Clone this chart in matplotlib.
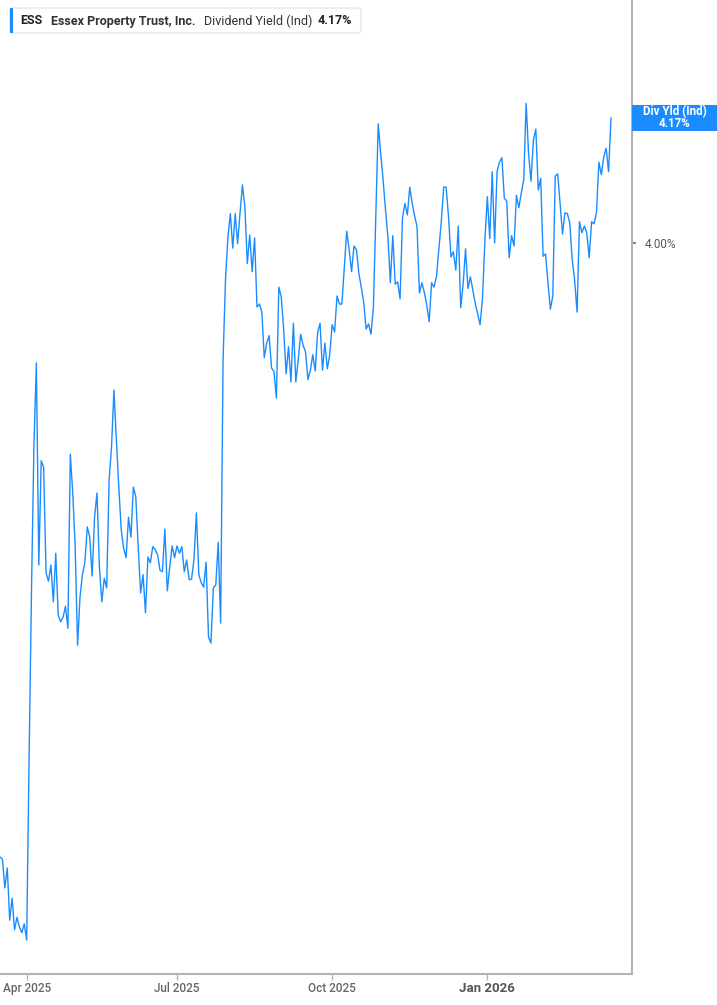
import numpy as np
import pandas as pd
import matplotlib
matplotlib.use("Agg")
import matplotlib.pyplot as plt
from matplotlib.patches import FancyBboxPatch, Rectangle

# ---------------- data ----------------
ticker = "ESS"
company = "Essex Property Trust, Inc."
metric = "Dividend Yield (Ind)"
last_label = "4.17%"
badge_title = "Div Yld (Ind)"
start_date = "2025-03-17"
holidays = ["2025-04-18", "2025-05-26", "2025-06-19", "2025-07-04", "2025-09-01",
            "2025-11-27", "2025-12-25", "2026-01-01", "2026-01-19", "2026-02-16"]
tick_months = ["2025-04", "2025-07", "2025-10", "2026-01"]
tick_labels = ["Apr 2025", "Jul 2025", "Oct 2025", "Jan 2026"]
ytick_vals = [4.00]
ytick_labels = ["4.00%"]

yield_a = [3.165, 3.162, 3.123, 3.150, 3.079, 3.109, 3.066, 3.083, 3.070, 3.062,
           3.074, 3.052, 3.300, 3.530, 3.725, 3.837]
yield_b = [3.562, 3.704, 3.695, 3.551, 3.540, 3.562, 3.512, 3.578, 3.494, 3.485,
           3.491, 3.506, 3.476, 3.713, 3.660, 3.587, 3.453, 3.519, 3.549, 3.566,
           3.614, 3.600, 3.547, 3.627, 3.660, 3.559, 3.512, 3.544, 3.531, 3.678,
           3.723, 3.800, 3.732, 3.668, 3.610, 3.585, 3.572, 3.627, 3.600, 3.668,
           3.655, 3.587, 3.524, 3.549, 3.497, 3.573, 3.565, 3.587, 3.583, 3.576,
           3.555, 3.553, 3.611, 3.527, 3.559, 3.588, 3.572, 3.588, 3.578, 3.587,
           3.553, 3.569, 3.542, 3.543, 3.569, 3.633, 3.549, 3.538, 3.532, 3.566,
           3.464, 3.456, 3.531, 3.535, 3.593, 3.483]
yield_c = [3.841, 3.950, 4.008, 4.040, 3.993, 4.040, 3.999, 4.041, 4.079, 4.049,
           3.972, 4.011, 3.961, 4.007, 3.913, 3.917, 3.906, 3.844, 3.864, 3.874,
           3.830, 3.825, 3.789, 3.940, 3.927, 3.882, 3.822, 3.859, 3.811, 3.891,
           3.811, 3.841, 3.876, 3.861, 3.852, 3.814, 3.827, 3.848, 3.826, 3.878,
           3.891, 3.827, 3.864, 3.829, 3.848, 3.889, 3.879, 3.928, 3.917, 3.917,
           3.967, 4.016, 3.991, 3.961, 3.996, 3.991, 3.959, 3.940, 3.920, 3.883,
           3.890, 3.876, 3.912, 4.037, 4.162, 4.122, 4.086, 4.045, 4.008, 3.946,
           4.010, 3.944, 3.947, 3.924, 4.034, 4.054, 4.038, 4.076, 4.054, 4.037,
           4.022, 3.932, 3.946, 3.933, 3.916, 3.893, 3.946, 3.940, 3.954, 3.991,
           4.029, 4.076, 4.076, 4.035, 3.981, 3.988, 3.963, 4.023, 3.912, 3.943,
           3.992, 3.938, 3.954, 3.936, 3.918, 3.904, 3.889, 3.925, 4.004, 4.063,
           4.006, 4.097, 4.000, 4.097, 4.110, 4.116, 4.061, 4.057, 3.980, 4.010,
           3.996, 4.065, 4.048, 4.068, 4.086, 4.190, 4.122, 4.084, 4.140, 4.155,
           4.072, 4.088, 3.982, 3.985, 3.946, 3.910, 3.928, 4.091, 4.094, 4.054,
           4.012, 4.041, 4.040, 4.027, 3.977, 3.950, 3.906, 4.029, 4.014, 4.023,
           4.014, 3.980, 4.029, 4.026, 4.041, 4.110, 4.093, 4.117, 4.129, 4.097,
           4.170]

values = np.array(yield_a + yield_b + yield_c)
dates = pd.bdate_range(start=start_date, periods=len(values), freq="C",
                       holidays=holidays)
idx = np.arange(len(values))

# ---------------- style ----------------
W, H = 717, 1005
LINE = "#1a8cff"
GRAY = "#b3b3b3"
TXT = "#555555"
FONT = ["Roboto", "DejaVu Sans"]
plt.rcParams["font.family"] = FONT

fig = plt.figure(figsize=(W / 100, H / 100), dpi=100)
ax_right = 632
ax_bottom = 974
ax = fig.add_axes([0, 1 - ax_bottom / H, ax_right / W, ax_bottom / H])

ax.plot(idx, values, color=LINE, lw=1.0, solid_joinstyle="round")

# scales: x index per trading day, y linear yield
px_per_idx = 611 / (len(values) - 1)
ax.set_xlim(0, ax_right / px_per_idx)
ppu = 735.3  # pixels per 1% yield
ytop = 4.0 + 243 / ppu
ax.set_ylim(ytop - ax_bottom / ppu, ytop)

for s in ["top", "left"]:
    ax.spines[s].set_visible(False)
for s in ["right", "bottom"]:
    ax.spines[s].set_color(GRAY)
    ax.spines[s].set_linewidth(1.5)

month_keys = dates.strftime("%Y-%m")
tick_pos = [int(np.argmax(month_keys == m)) for m in tick_months]
ax.set_xticks(tick_pos)
ax.set_xticklabels(tick_labels)
ax.tick_params(axis="x", length=4, width=1, color=GRAY, colors=TXT,
               labelsize=8.5, pad=1.5)
for lab in ax.get_xticklabels():
    lab.set_color("#666666")
    lab.set_fontweight("medium")
    if lab.get_text().startswith("Jan"):
        lab.set_fontweight("bold")
        lab.set_fontsize(9.5)
        lab.set_color("#555555")

ax.yaxis.tick_right()
ax.set_yticks(ytick_vals)
ax.set_yticklabels(ytick_labels)
ax.tick_params(axis="y", length=3, width=1.5, color="#888888", labelcolor=TXT,
               labelsize=8.5, pad=6)


def fx(px):
    return px / W


def fy(py):
    return 1 - py / H


# legend box top-left
box = FancyBboxPatch((fx(10), fy(33)), fx(351), 25 / H,
                     boxstyle="round,pad=0,rounding_size=0.004",
                     transform=fig.transFigure, facecolor="white",
                     edgecolor="#e6e6e6", lw=1.0, zorder=5)
fig.add_artist(box)
fig.add_artist(Rectangle((fx(10), fy(33)), fx(3), 25 / H,
                         transform=fig.transFigure, facecolor=LINE,
                         edgecolor="none", zorder=6))
ty = fy(21)
fig.text(fx(20), ty, ticker, fontsize=9, fontweight="bold", color="#222222",
         va="center", zorder=7)
fig.text(fx(51), ty, company, fontsize=9, fontweight="bold", color="#333333",
         va="center", zorder=7)
fig.text(fx(204), ty, metric, fontsize=9, color="#333333", va="center", zorder=7)
fig.text(fx(318), ty, last_label, fontsize=9, fontweight="bold",
         color="#222222", va="center", zorder=7)

# right badge with last value
fig.add_artist(Rectangle((fx(632), fy(131)), fx(85), 26 / H,
                         transform=fig.transFigure, facecolor=LINE,
                         edgecolor="none", zorder=6))
fig.text(fx(674.5), fy(112), badge_title, fontsize=8.3, fontweight="bold",
         color="white", ha="center", va="center", zorder=7)
fig.text(fx(674.5), fy(123.5), last_label, fontsize=8.3, fontweight="bold",
         color="white", ha="center", va="center", zorder=7)

fig.savefig("out.png", dpi=100, facecolor="white")
